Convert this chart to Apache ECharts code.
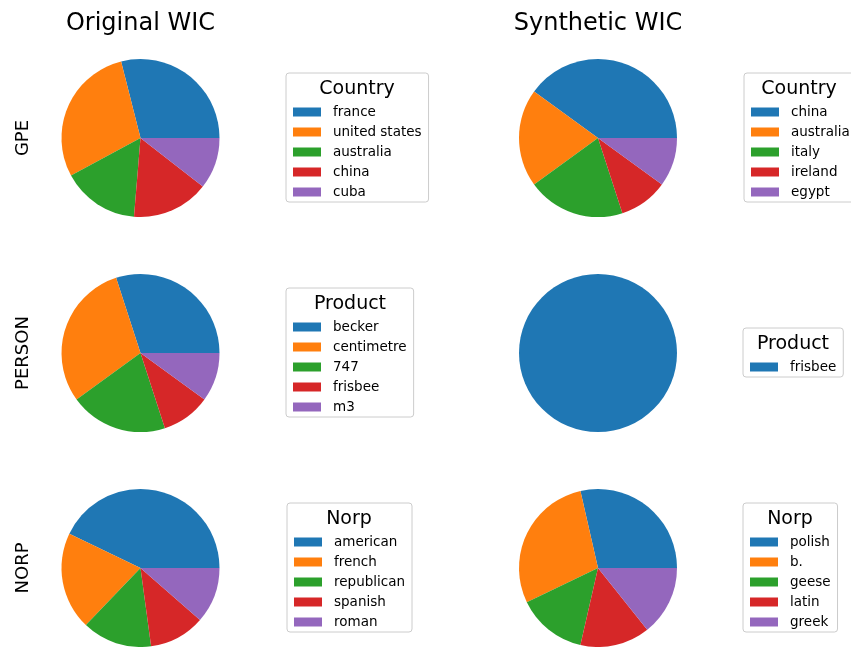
<!DOCTYPE html>
<html>
<head>
<meta charset="utf-8">
<script src="https://cdn.jsdelivr.net/npm/echarts@6/dist/echarts.min.js"></script>
<style>html,body{margin:0;padding:0;background:#fff}#c{width:851px;height:647px}</style>
</head>
<body>
<div id="c"></div>
<script>
// ---- data ----
const colTitles = ['Original WIC', 'Synthetic WIC'];
const rowLabels = ['GPE', 'PERSON', 'NORP'];
const legendTitles = ['Country', 'Product', 'Norp'];

const origGpeNames = ['france', 'united states', 'australia', 'china', 'cuba'];
const origGpeValues = [11, 11, 6, 6, 4];
const synGpeNames = ['china', 'australia', 'italy', 'ireland', 'egypt'];
const synGpeValues = [4, 2, 2, 1, 1];

const origPersonNames = ['becker', 'centimetre', '747', 'frisbee', 'm3'];
const origPersonValues = [3, 3, 2, 1, 1];
const synPersonNames = ['frisbee'];
const synPersonValues = [1];

const origNorpNames = ['american', 'french', 'republican', 'spanish', 'roman'];
const origNorpValues = [15, 7, 5, 4, 4];
const synNorpNames = ['polish', 'b.', 'geese', 'latin', 'greek'];
const synNorpValues = [2, 2, 1, 1, 1];

// ---- styling / layout ----
const palette = ['#1f77b4', '#ff7f0e', '#2ca02c', '#d62728', '#9467bd'];
const FONT = 'DejaVu Sans';
const colX = [140.5, 598];
const rowY = [138, 353, 568];
const R = 79;

const panels = [
  {names: origGpeNames, values: origGpeValues, col: 0, row: 0, lx: 286, ly: 73, tc: 357},
  {names: synGpeNames, values: synGpeValues, col: 1, row: 0, lx: 744, ly: 73, tc: 799},
  {names: origPersonNames, values: origPersonValues, col: 0, row: 1, lx: 286, ly: 288, tc: 350},
  {names: synPersonNames, values: synPersonValues, col: 1, row: 1, lx: 743, ly: 328, tc: 793},
  {names: origNorpNames, values: origNorpValues, col: 0, row: 2, lx: 287, ly: 503, tc: 349},
  {names: synNorpNames, values: synNorpValues, col: 1, row: 2, lx: 743, ly: 503, tc: 790}
];

const series = [], legends = [], titles = [], graphics = [];

colTitles.forEach((t, i) => {
  titles.push({text: t, left: colX[i], top: 12, textAlign: 'center', padding: 0,
    textStyle: {fontFamily: FONT, fontSize: 24, fontWeight: 'normal', color: '#000'}});
});

rowLabels.forEach((t, i) => {
  graphics.push({type: 'text', x: 23, y: rowY[i], rotation: Math.PI / 2,
    style: {text: t, font: '18px "DejaVu Sans"', fill: '#000', align: 'center', verticalAlign: 'middle'}});
});

panels.forEach((p) => {
  series.push({
    type: 'pie', center: [colX[p.col], rowY[p.row]], radius: R,
    startAngle: 0, clockwise: false, silent: true,
    label: {show: false}, labelLine: {show: false},
    itemStyle: {borderWidth: 0}, emphasis: {disabled: true},
    data: p.names.map((n, i) => ({name: n, value: p.values[i], itemStyle: {color: palette[i]}}))
  });
  legends.push({
    orient: 'vertical', left: p.lx, top: p.ly, icon: 'rect', selectedMode: false,
    itemWidth: 28, itemHeight: 9, itemGap: 6, padding: [32, 7, 3, 7],
    borderColor: '#cccccc', borderWidth: 1, borderRadius: 3, backgroundColor: '#ffffff',
    textStyle: {fontFamily: FONT, fontSize: 13.5, color: '#000', lineHeight: 14, padding: [0, 0, 0, 7]},
    data: p.names.map((n, i) => ({name: n, itemStyle: {color: palette[i]}}))
  });
  titles.push({text: legendTitles[p.row], left: p.tc, top: p.ly + 7, textAlign: 'center', padding: 0,
    textStyle: {fontFamily: FONT, fontSize: 19, fontWeight: 'normal', color: '#000'}});
});

const chart = echarts.init(document.getElementById('c'), null, {renderer: 'canvas'});
chart.setOption({
  animation: false,
  backgroundColor: '#ffffff',
  title: titles,
  legend: legends,
  series: series,
  graphic: graphics
});
</script>
</body>
</html>
